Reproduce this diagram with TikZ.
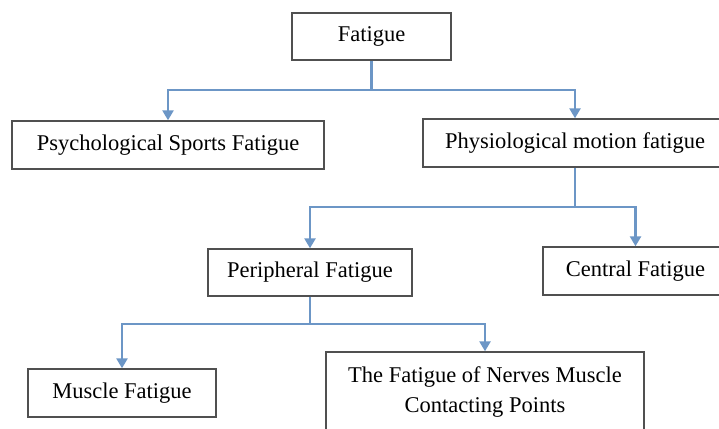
\documentclass[tikz,border=0pt]{standalone}
\usepackage{fontspec}
\setmainfont{Liberation Serif}
\usetikzlibrary{arrows.meta}
\definecolor{linkblue}{RGB}{108,150,198}
\definecolor{boxgray}{RGB}{80,80,80}
\begin{document}
\begin{tikzpicture}[x=1pt,y=-1pt,
  box/.style={draw=boxgray,line width=1.4pt,fill=white,inner sep=0pt,align=center,
    font=\fontsize{22.5}{30}\selectfont},
  conn/.style={draw=linkblue,line width=2.4pt},
  arr/.style={conn,-{Triangle[width=11pt,length=10pt]}}]
\useasboundingbox (0,0) rectangle (719,428);
\clip (0,0) rectangle (719,428);
\fill[white] (0,0) rectangle (719,428);
% nodes
\node[box,minimum width=159pt,minimum height=47pt] (fat) at (371.5,36.5) {Fatigue};
\node[box,minimum width=312pt,minimum height=48pt] (psy) at (168,145) {Psychological Sports Fatigue};
\node[box,minimum width=304pt,minimum height=48pt] (phy) at (575,143) {Physiological motion fatigue};
\node[box,minimum width=204pt,minimum height=47pt] (per) at (310,272.5) {Peripheral Fatigue};
\node[box,minimum width=185pt,minimum height=48pt] (cen) at (635.5,271) {Central Fatigue};
\node[box,minimum width=188pt,minimum height=48pt] (mus) at (122,393) {Muscle Fatigue};
\node[box,minimum width=318pt,minimum height=80pt] (ner) at (485,392) {The Fatigue of Nerves Muscle\\Contacting Points};
% junctions
\coordinate (j1) at (371.5,90);
\coordinate (j2) at (575,207);
\coordinate (j3) at (310,324);
% connectors
\draw[conn] (fat.south) -- (j1);
\draw[arr] (j1) -| (psy.north);
\draw[arr] (j1) -| (phy.north);
\draw[conn] (phy.south) -- (j2);
\draw[arr] (j2) -| (per.north);
\draw[arr] (j2) -| (cen.north);
\draw[conn] (per.south) -- (j3);
\draw[arr] (j3) -| (mus.north);
\draw[arr] (j3) -| (ner.north);
\end{tikzpicture}
\end{document}
